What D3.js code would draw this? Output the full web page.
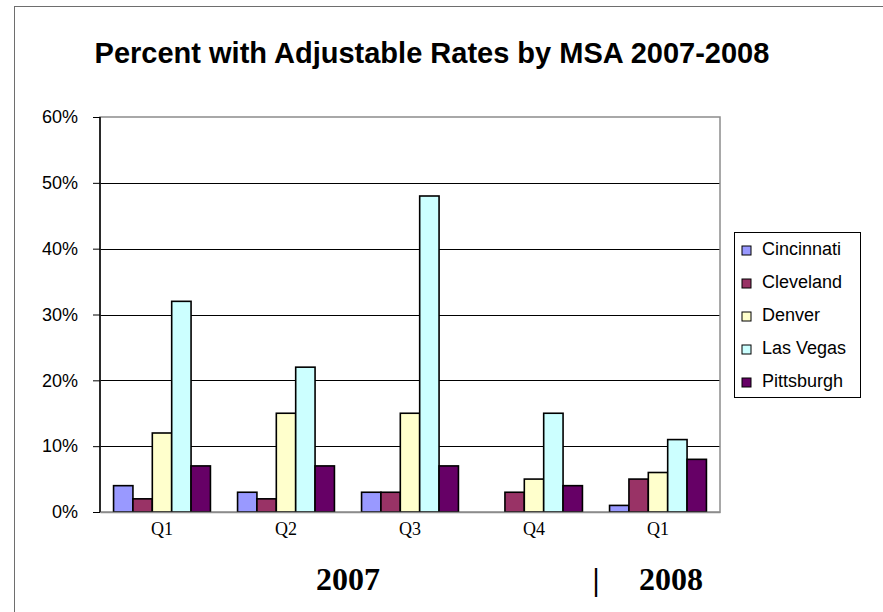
<!DOCTYPE html>
<html>
<head>
<meta charset="utf-8">
<script src="https://cdn.jsdelivr.net/npm/d3@7"></script>
<style>
  body { margin: 0; background: #fff; }
  svg { display: block; }
</style>
</head>
<body>
<script>
var width = 883;
var height = 612;

// data
var quarters = ["Q1", "Q2", "Q3", "Q4", "Q1 "];
var cities = ["Cincinnati", "Cleveland", "Denver", "Las Vegas", "Pittsburgh"];
var colors = ["#9999FF", "#993366", "#FFFFCC", "#CCFFFF", "#660066"];
var cincinnati = [4, 3, 3, null, 1];
var cleveland = [2, 2, 3, 3, 5];
var denver = [12, 15, 15, 5, 6];
var lasVegas = [32, 22, 48, 15, 11];
var pittsburgh = [7, 7, 7, 4, 8];
var yTicks = [0, 10, 20, 30, 40, 50, 60];

var series = [cincinnati, cleveland, denver, lasVegas, pittsburgh];

var svg = d3.select("body").append("svg")
  .attr("width", width)
  .attr("height", height);

// outer chart frame (runs off the right and bottom)
svg.append("rect")
  .attr("x", 14.5).attr("y", 6.5)
  .attr("width", 900).attr("height", 700)
  .attr("fill", "none")
  .attr("stroke", "#6e6e6e")
  .attr("stroke-width", 1);

var pLeft = 100, pRight = 720, pTop = 117, pBottom = 512;

var x = d3.scaleBand().domain(quarters).range([pLeft, pRight]).padding(0);
var inner = d3.scaleBand().domain(d3.range(cities.length))
  .range([0, x.bandwidth()]).paddingInner(0).paddingOuter(0.7);
var y = d3.scaleLinear().domain([0, 60]).range([pBottom, pTop]);

// gridlines
svg.selectAll(".grid")
  .data(yTicks.filter(function(d) { return d > 0 && d < 60; }))
  .enter().append("line")
  .attr("x1", pLeft).attr("x2", pRight)
  .attr("y1", function(d) { return Math.round(y(d)) + 0.5; })
  .attr("y2", function(d) { return Math.round(y(d)) + 0.5; })
  .attr("stroke", "#000")
  .attr("stroke-width", 1);

// plot frame
svg.append("rect")
  .attr("x", pLeft).attr("y", pTop)
  .attr("width", pRight - pLeft).attr("height", pBottom - pTop)
  .attr("fill", "none")
  .attr("stroke", "#8c8c8c")
  .attr("stroke-width", 1.5);

// bars
var bars = [];
quarters.forEach(function(q, qi) {
  series.forEach(function(s, si) {
    if (s[qi] !== null) bars.push({ q: q, i: si, v: s[qi] });
  });
});

svg.selectAll(".bar")
  .data(bars)
  .enter().append("rect")
  .attr("x", function(d) { return x(d.q) + inner(d.i); })
  .attr("y", function(d) { return y(d.v); })
  .attr("width", inner.bandwidth())
  .attr("height", function(d) { return pBottom - y(d.v); })
  .attr("fill", function(d) { return colors[d.i]; })
  .attr("stroke", "#000")
  .attr("stroke-width", 1.6);

// y axis
var yAxis = d3.axisLeft(y)
  .tickValues(yTicks)
  .tickSize(7)
  .tickPadding(15)
  .tickFormat(function(d) { return d + "%"; });

var ya = svg.append("g")
  .attr("transform", "translate(" + pLeft + ",0)")
  .call(yAxis);
ya.select(".domain").attr("stroke", "#000").attr("stroke-width", 1.5)
  .attr("d", "M0," + pTop + "V" + pBottom);
ya.selectAll(".tick line").attr("stroke", "#000");
ya.selectAll(".tick text")
  .attr("fill", "#000")
  .style("font-family", "Arial, 'Liberation Sans', sans-serif")
  .style("font-size", "18px");

// x axis
var xa = svg.append("g")
  .attr("transform", "translate(0," + pBottom + ")")
  .call(d3.axisBottom(x).tickSize(0).tickPadding(9));
xa.select(".domain").attr("stroke", "#8c8c8c").attr("stroke-width", 1.5);
xa.selectAll(".tick text")
  .attr("fill", "#000")
  .attr("dy", "0.75em")
  .style("font-family", "'Times New Roman', 'Liberation Serif', serif")
  .style("font-size", "18px");

// title
svg.append("text")
  .attr("x", 432).attr("y", 63)
  .attr("text-anchor", "middle")
  .style("font-family", "Arial, 'Liberation Sans', sans-serif")
  .style("font-weight", "bold")
  .style("font-size", "29px")
  .text("Percent with Adjustable Rates by MSA 2007-2008");

// year labels
var yearStyle = function(t) {
  t.attr("text-anchor", "middle")
    .style("font-family", "'Times New Roman', 'Liberation Serif', serif")
    .style("font-weight", "bold")
    .style("font-size", "32px");
};
svg.append("text").attr("x", 348).attr("y", 590).call(yearStyle).text("2007");
svg.append("text").attr("x", 596).attr("y", 590).call(yearStyle).text("|");
svg.append("text").attr("x", 671).attr("y", 590).call(yearStyle).text("2008");

// legend
var legend = svg.append("g");
legend.append("rect")
  .attr("x", 734.5).attr("y", 232.5)
  .attr("width", 126).attr("height", 165)
  .attr("fill", "#fff")
  .attr("stroke", "#000")
  .attr("stroke-width", 1);

var items = legend.selectAll(".item")
  .data(cities)
  .enter().append("g")
  .attr("transform", function(d, i) { return "translate(742," + (249 + i * 33) + ")"; });

items.append("rect")
  .attr("x", 0).attr("y", -3)
  .attr("width", 9).attr("height", 9)
  .attr("fill", function(d, i) { return colors[i]; })
  .attr("stroke", "#000")
  .attr("stroke-width", 1);

items.append("text")
  .attr("x", 20).attr("y", 0)
  .attr("dy", "0.35em")
  .style("font-family", "Arial, 'Liberation Sans', sans-serif")
  .style("font-size", "18px")
  .text(function(d) { return d; });
</script>
</body>
</html>
